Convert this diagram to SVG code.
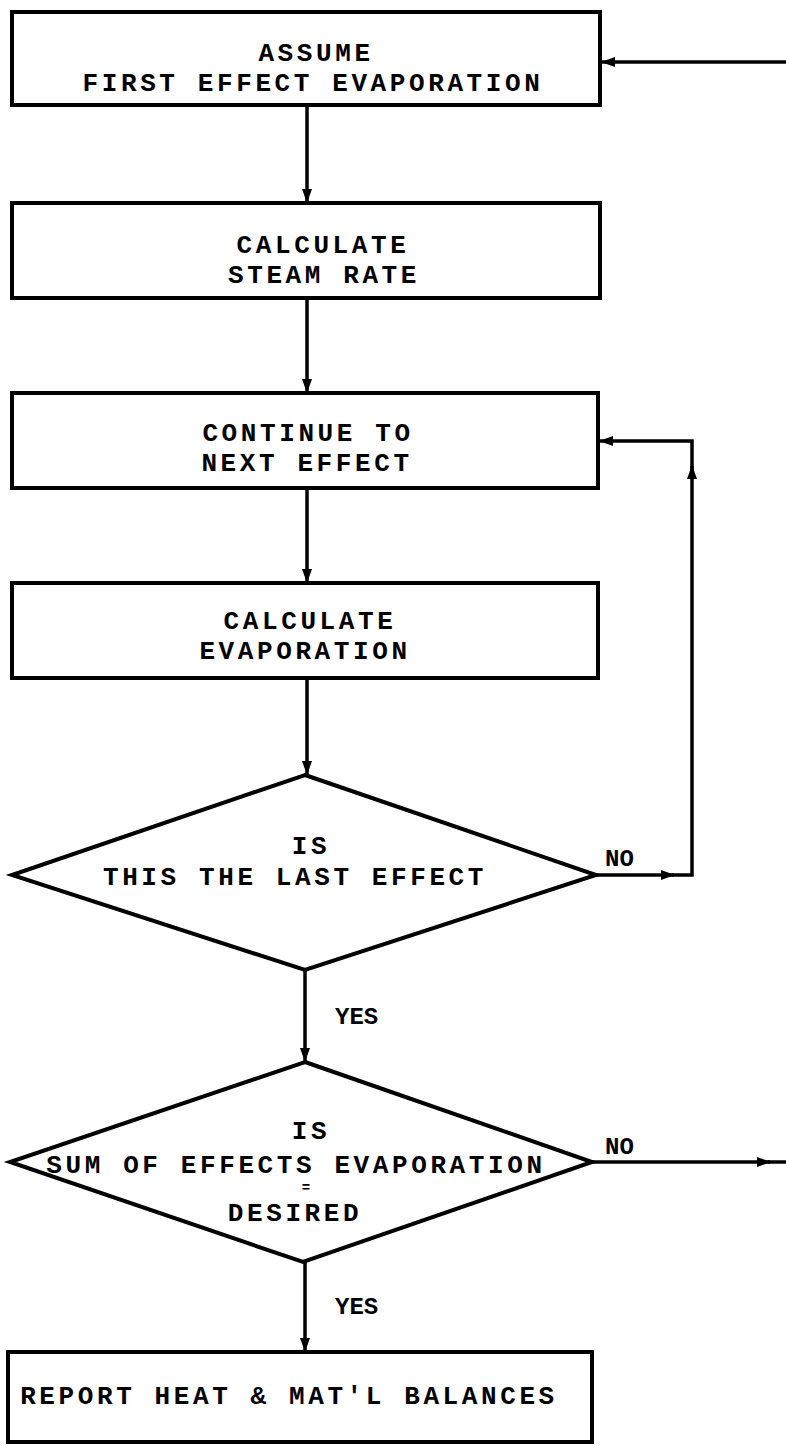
<svg xmlns="http://www.w3.org/2000/svg" width="786" height="1446" viewBox="0 0 786 1446">
<defs>
<marker id="ah" viewBox="0 0 14 10" refX="13" refY="5" markerWidth="14" markerHeight="10" markerUnits="userSpaceOnUse" orient="auto">
<path d="M0,0 L14,5 L0,10 Z" fill="#000"/>
</marker>
</defs>
<style>
.box{fill:#fff;stroke:#000;stroke-width:4}
.t{font-family:"Liberation Mono","Courier New",monospace;font-weight:bold;font-size:26px;letter-spacing:3.6px;text-anchor:middle;fill:#000}
.l{font-family:"Liberation Mono","Courier New",monospace;font-weight:bold;font-size:24px;fill:#000}
.c{fill:none;stroke:#000;stroke-width:3.5}
</style>
<rect width="786" height="1446" fill="#fff"/>
<g id="connectors">
<path class="c" d="M307,105 V202" marker-end="url(#ah)"/>
<path class="c" d="M307,298 V392" marker-end="url(#ah)"/>
<path class="c" d="M307,488 V582" marker-end="url(#ah)"/>
<path class="c" d="M307,678 V774" marker-end="url(#ah)"/>
<path class="c" d="M596,875 H674" marker-end="url(#ah)"/>
<path class="c" d="M672,875 H692 V466" marker-end="url(#ah)"/>
<path class="c" d="M692,470 V441 H600" marker-end="url(#ah)"/>
<path class="c" d="M305,970 V1061" marker-end="url(#ah)"/>
<path class="c" d="M592,1162 H770" marker-end="url(#ah)"/>
<path class="c" d="M768,1162 H786"/>
<path class="c" d="M786,62 H602" marker-end="url(#ah)"/>
<path class="c" d="M305,1262 V1351" marker-end="url(#ah)"/>
</g>
<g id="n1">
<rect class="box" x="12" y="12" width="588" height="93"/>
<text class="t" x="316" y="61">ASSUME</text>
<text class="t" x="313" y="91">FIRST EFFECT EVAPORATION</text>
</g>
<g id="n2">
<rect class="box" x="12" y="203" width="588" height="95"/>
<text class="t" x="323" y="253">CALCULATE</text>
<text class="t" x="324" y="283">STEAM RATE</text>
</g>
<g id="n3">
<rect class="box" x="12" y="393" width="586" height="95"/>
<text class="t" x="308" y="441">CONTINUE TO</text>
<text class="t" x="307" y="471">NEXT EFFECT</text>
</g>
<g id="n4">
<rect class="box" x="12" y="583" width="586" height="95"/>
<text class="t" x="310" y="629">CALCULATE</text>
<text class="t" x="305" y="659">EVAPORATION</text>
</g>
<g id="d1">
<polygon class="box" points="305,775 596,875 305,970 12,875"/>
<text class="t" x="311" y="854">IS</text>
<text class="t" x="295" y="885">THIS THE LAST EFFECT</text>
<text class="l" x="605" y="866">NO</text>
</g>
<g id="d2">
<polygon class="box" points="305,1062 592,1162 303,1262 10,1162"/>
<text class="t" x="311" y="1139">IS</text>
<text class="t" x="296" y="1173">SUM OF EFFECTS EVAPORATION</text>
<text class="t" x="306" y="1192" style="font-size:14px;letter-spacing:0">=</text>
<text class="t" x="295" y="1221">DESIRED</text>
<text class="l" x="605" y="1154">NO</text>
</g>
<text class="l" x="335" y="1024">YES</text>
<text class="l" x="335" y="1314">YES</text>
<g id="n5">
<rect class="box" x="8" y="1352" width="584" height="90"/>
<text class="t" x="289" y="1404">REPORT HEAT &amp; MAT'L BALANCES</text>
</g>
</svg>
